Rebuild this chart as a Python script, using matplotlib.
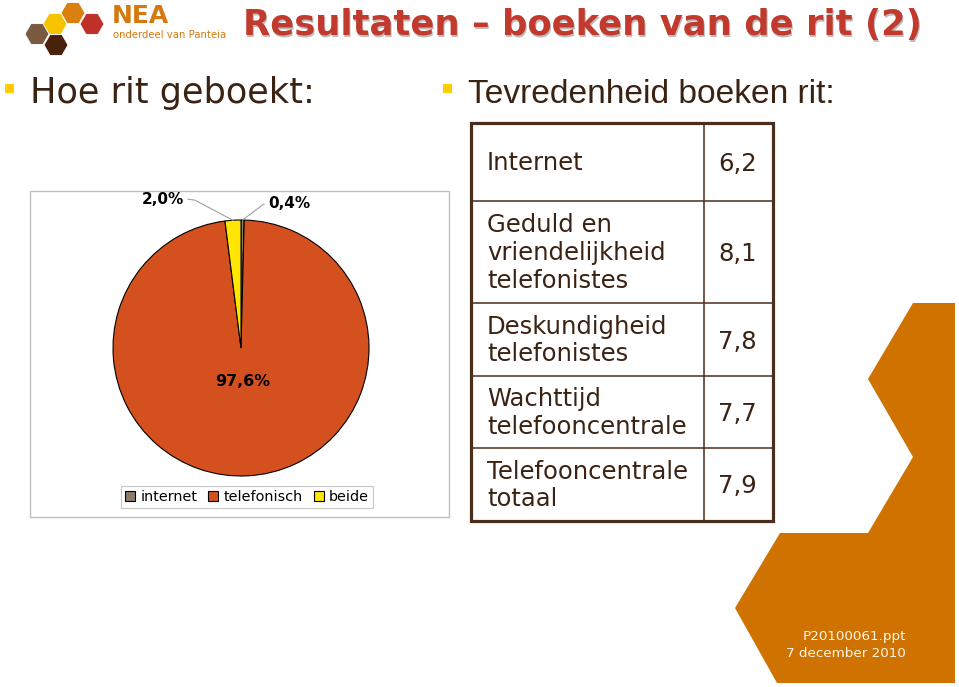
import numpy as np
import matplotlib
matplotlib.use('Agg')
import matplotlib.pyplot as plt
from matplotlib.patches import Rectangle, Polygon, RegularPolygon

# ── data ─────────────────────────────────────
pie_labels = ['internet', 'telefonisch', 'beide']
pie_values = [0.4, 97.6, 2.0]

table_labels = [
    'Internet',
    'Geduld en\nvriendelijkheid\ntelefonistes',
    'Deskundigheid\ntelefonistes',
    'Wachttijd\ntelefooncentrale',
    'Telefooncentrale\ntotaal',
]
table_scores = [6.2, 8.1, 7.8, 7.7, 7.9]

# ── style ────────────────────────────────────
BROWN = '#3B2314'
LINE = '#4A2E1B'
ORANGE = '#CF7200'
PIE_COLORS = ['#8B7B6B', '#D4501E', '#FFE500']

W, H = 959, 687
fig = plt.figure(figsize=(W / 100, H / 100), dpi=100, facecolor='white')

# full-figure canvas in pixel units (y down)
bg = fig.add_axes([0, 0, 1, 1])
bg.set_xlim(0, W)
bg.set_ylim(H, 0)
bg.axis('off')

# logo
hexes = [((73, 13), '#D9800F'), ((55, 24), '#F6C300'), ((92, 24), '#C0302B'),
         ((37, 34), '#7A5A40'), ((56, 45), '#4A220C')]
for (hx, hy), col in hexes:
    bg.add_patch(RegularPolygon((hx, hy), 6, radius=12, orientation=np.pi / 6,
                                facecolor=col, edgecolor='white', lw=0.6))
bg.text(112, 23, 'NEA', fontsize=18, fontweight='bold', color='#D4780F', va='baseline')
bg.text(113, 38.5, 'onderdeel van Panteia', fontsize=7.3, color='#D4780F', va='baseline')

# title with soft shadow
title = 'Resultaten \u2013 boeken van de rit (2)'
bg.text(244.5, 36.5, title, fontsize=25.5, fontweight='bold', color='#BDBDBD', va='baseline')
bg.text(243, 35, title, fontsize=25.5, fontweight='bold', color='#C23A2E', va='baseline')

# sub headings
for bx in (5, 443):
    bg.add_patch(Rectangle((bx, 84), 9, 9, facecolor='#FFCC00', edgecolor='none'))
bg.text(30, 103, 'Hoe rit geboekt:', fontsize=25.3, color=BROWN, va='baseline')
bg.text(468, 103, 'Tevredenheid boeken rit:', fontsize=24.1, color=BROWN,
        family='Liberation Sans', va='baseline')

# orange decoration on the right
shape = [(913, 303), (955, 303), (955, 683), (777, 683), (735, 608), (780, 533),
         (868, 533), (913, 457), (868, 379)]
bg.add_patch(Polygon(shape, closed=True, facecolor=ORANGE, edgecolor='none'))
bg.text(906, 640, 'P20100061.ppt', fontsize=9.7, color='#FFF6EA', ha='right', va='baseline')
bg.text(906, 657, '7 december 2010', fontsize=9.7, color='#FFF6EA', ha='right', va='baseline')

# ── table ────────────────────────────────────
tx0, tx1, tcol = 471, 773, 704
row_edges = [123, 201, 303, 376, 448, 521]
for y in row_edges[1:-1]:
    bg.plot([tx0, tx1], [y, y], color=LINE, lw=1.1)
bg.plot([tcol, tcol], [row_edges[0], row_edges[-1]], color=LINE, lw=1.1)
bg.add_patch(Rectangle((tx0, row_edges[0]), tx1 - tx0, row_edges[-1] - row_edges[0],
                       facecolor='none', edgecolor=LINE, lw=2.3))
for i, (lab, val) in enumerate(zip(table_labels, table_scores)):
    yc = (row_edges[i] + row_edges[i + 1]) / 2 + 1
    bg.text(487, yc, lab, fontsize=17.5, color=BROWN, va='center', ha='left',
            linespacing=1.2)
    bg.text(757, yc + 1, f'{val:.1f}'.replace('.', ','), fontsize=17.5, color=BROWN,
            va='center', ha='right')

# ── pie panel ────────────────────────────────
bg.add_patch(Rectangle((30, 191), 419, 326, facecolor='white', edgecolor='#BFBFBF', lw=1))

cx, cy, r = 241, 348, 128
ax = fig.add_axes([(cx - r) / W, (H - cy - r) / H, 2 * r / W, 2 * r / H])
wedges, _ = ax.pie(pie_values, colors=PIE_COLORS, startangle=90, counterclock=False,
                   wedgeprops={'edgecolor': 'black', 'linewidth': 0.8})
ax.set_xlim(-1, 1)
ax.set_ylim(-1, 1)
ax.set_aspect('equal')

# data labels: (text x, text y, ha, leader elbow, size) in pie radius units
label_pos = [(0.21, 1.125, 'left', (0.165, 1.115), 11),
             (0.016, -0.258, 'center', None, 11.4),
             (-0.445, 1.163, 'right', (-0.36, 1.155), 11)]
for w, val, (lx, ly, ha, elbow, fs) in zip(wedges, pie_values, label_pos):
    ax.text(lx, ly, f'{val:.1f}%'.replace('.', ','), fontsize=fs, fontweight='bold',
            color='black', ha=ha, va='center')
    if elbow is not None:
        mid = np.deg2rad((w.theta1 + w.theta2) / 2)
        start = lx - 0.03 if ha == 'left' else lx + 0.03
        ax.plot([start, elbow[0], np.cos(mid)], [ly, elbow[1], np.sin(mid)],
                color='#A0A0A0', lw=0.8, clip_on=False)

leg = fig.legend(wedges, pie_labels, loc='center', ncol=3,
                 bbox_to_anchor=(247 / W, (H - 497) / H), fontsize=10.4,
                 frameon=True, fancybox=False, edgecolor='#C8C8C8', framealpha=1,
                 handlelength=0.7, handleheight=0.7, handletextpad=0.35,
                 columnspacing=0.75, borderpad=0.3, borderaxespad=0)
leg.get_frame().set_linewidth(0.8)

fig.savefig('out.png', dpi=100, facecolor='white')
